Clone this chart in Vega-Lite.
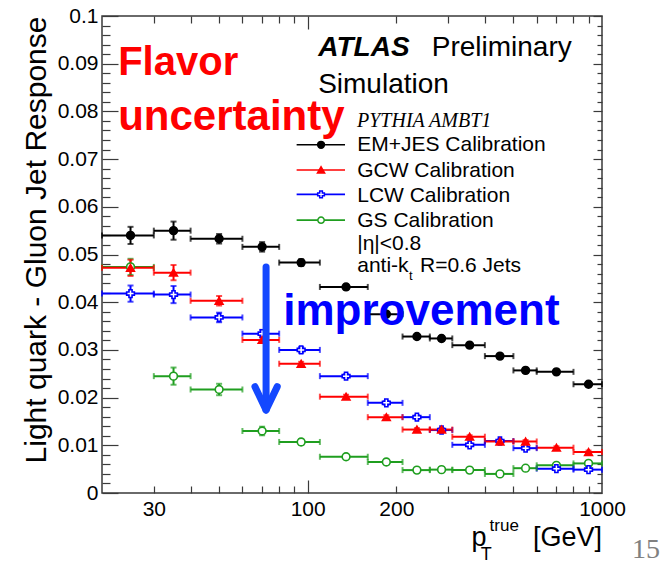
{
  "$schema": "https://vega.github.io/schema/vega-lite/v6.json",
  "width": 500,
  "height": 477,
  "autosize": {"type": "none"},
  "padding": {"left": 102, "top": 16, "right": 68, "bottom": 69},
  "background": "white",
  "data": {"values": [{}]},
  "datasets": {
    "jets": [
      {"series": "GS", "lo": 20, "hi": 30, "pt": 25, "y": 0.0474, "ylo": 0.0457, "yhi": 0.0491},
      {"series": "GS", "lo": 30, "hi": 40, "pt": 35, "y": 0.0245, "ylo": 0.0227, "yhi": 0.0263},
      {"series": "GS", "lo": 40, "hi": 60, "pt": 50, "y": 0.0217, "ylo": 0.0205, "yhi": 0.0229},
      {"series": "GS", "lo": 60, "hi": 80, "pt": 70, "y": 0.0130, "ylo": 0.0121, "yhi": 0.0139},
      {"series": "GS", "lo": 80, "hi": 110, "pt": 95, "y": 0.0107, "ylo": 0.0101, "yhi": 0.0113},
      {"series": "GS", "lo": 110, "hi": 160, "pt": 135, "y": 0.0076, "ylo": 0.0071, "yhi": 0.0081},
      {"series": "GS", "lo": 160, "hi": 210, "pt": 185, "y": 0.0065, "ylo": 0.0060, "yhi": 0.0070},
      {"series": "GS", "lo": 210, "hi": 260, "pt": 235, "y": 0.0048, "ylo": 0.0044, "yhi": 0.0052},
      {"series": "GS", "lo": 260, "hi": 310, "pt": 285, "y": 0.0049, "ylo": 0.0045, "yhi": 0.0053},
      {"series": "GS", "lo": 310, "hi": 400, "pt": 355, "y": 0.0048, "ylo": 0.0044, "yhi": 0.0052},
      {"series": "GS", "lo": 400, "hi": 500, "pt": 450, "y": 0.0040, "ylo": 0.0036, "yhi": 0.0044},
      {"series": "GS", "lo": 500, "hi": 600, "pt": 550, "y": 0.0052, "ylo": 0.0048, "yhi": 0.0056},
      {"series": "GS", "lo": 600, "hi": 800, "pt": 700, "y": 0.0058, "ylo": 0.0054, "yhi": 0.0062},
      {"series": "GS", "lo": 800, "hi": 1000, "pt": 900, "y": 0.0062, "ylo": 0.0058, "yhi": 0.0066},
      {"series": "LCW", "lo": 20, "hi": 30, "pt": 25, "y": 0.0418, "ylo": 0.0401, "yhi": 0.0435},
      {"series": "LCW", "lo": 30, "hi": 40, "pt": 35, "y": 0.0416, "ylo": 0.0398, "yhi": 0.0434},
      {"series": "LCW", "lo": 40, "hi": 60, "pt": 50, "y": 0.0368, "ylo": 0.0358, "yhi": 0.0378},
      {"series": "LCW", "lo": 60, "hi": 80, "pt": 70, "y": 0.0334, "ylo": 0.0326, "yhi": 0.0342},
      {"series": "LCW", "lo": 80, "hi": 110, "pt": 95, "y": 0.0300, "ylo": 0.0294, "yhi": 0.0306},
      {"series": "LCW", "lo": 110, "hi": 160, "pt": 135, "y": 0.0245, "ylo": 0.0241, "yhi": 0.0249},
      {"series": "LCW", "lo": 160, "hi": 210, "pt": 185, "y": 0.0189, "ylo": 0.0185, "yhi": 0.0193},
      {"series": "LCW", "lo": 210, "hi": 260, "pt": 235, "y": 0.0159, "ylo": 0.0155, "yhi": 0.0163},
      {"series": "LCW", "lo": 260, "hi": 310, "pt": 285, "y": 0.0132, "ylo": 0.0129, "yhi": 0.0135},
      {"series": "LCW", "lo": 310, "hi": 400, "pt": 355, "y": 0.0101, "ylo": 0.0098, "yhi": 0.0104},
      {"series": "LCW", "lo": 400, "hi": 500, "pt": 450, "y": 0.0109, "ylo": 0.0106, "yhi": 0.0112},
      {"series": "LCW", "lo": 500, "hi": 600, "pt": 550, "y": 0.0094, "ylo": 0.0091, "yhi": 0.0097},
      {"series": "LCW", "lo": 600, "hi": 800, "pt": 700, "y": 0.0051, "ylo": 0.0048, "yhi": 0.0054},
      {"series": "LCW", "lo": 800, "hi": 1000, "pt": 900, "y": 0.0049, "ylo": 0.0046, "yhi": 0.0052},
      {"series": "GCW", "lo": 20, "hi": 30, "pt": 25, "y": 0.0472, "ylo": 0.0455, "yhi": 0.0489},
      {"series": "GCW", "lo": 30, "hi": 40, "pt": 35, "y": 0.0462, "ylo": 0.0446, "yhi": 0.0478},
      {"series": "GCW", "lo": 40, "hi": 60, "pt": 50, "y": 0.0403, "ylo": 0.0393, "yhi": 0.0413},
      {"series": "GCW", "lo": 60, "hi": 80, "pt": 70, "y": 0.0321, "ylo": 0.0315, "yhi": 0.0327},
      {"series": "GCW", "lo": 80, "hi": 110, "pt": 95, "y": 0.0271, "ylo": 0.0267, "yhi": 0.0275},
      {"series": "GCW", "lo": 110, "hi": 160, "pt": 135, "y": 0.0202, "ylo": 0.0198, "yhi": 0.0206},
      {"series": "GCW", "lo": 160, "hi": 210, "pt": 185, "y": 0.0159, "ylo": 0.0155, "yhi": 0.0163},
      {"series": "GCW", "lo": 210, "hi": 260, "pt": 235, "y": 0.0133, "ylo": 0.0130, "yhi": 0.0136},
      {"series": "GCW", "lo": 260, "hi": 310, "pt": 285, "y": 0.0133, "ylo": 0.0130, "yhi": 0.0136},
      {"series": "GCW", "lo": 310, "hi": 400, "pt": 355, "y": 0.0118, "ylo": 0.0115, "yhi": 0.0121},
      {"series": "GCW", "lo": 400, "hi": 500, "pt": 450, "y": 0.0108, "ylo": 0.0105, "yhi": 0.0111},
      {"series": "GCW", "lo": 500, "hi": 600, "pt": 550, "y": 0.0108, "ylo": 0.0105, "yhi": 0.0111},
      {"series": "GCW", "lo": 600, "hi": 800, "pt": 700, "y": 0.0095, "ylo": 0.0092, "yhi": 0.0098},
      {"series": "GCW", "lo": 800, "hi": 1000, "pt": 900, "y": 0.0086, "ylo": 0.0083, "yhi": 0.0089},
      {"series": "EM+JES", "lo": 20, "hi": 30, "pt": 25, "y": 0.0540, "ylo": 0.0522, "yhi": 0.0558},
      {"series": "EM+JES", "lo": 30, "hi": 40, "pt": 35, "y": 0.0550, "ylo": 0.0531, "yhi": 0.0569},
      {"series": "EM+JES", "lo": 40, "hi": 60, "pt": 50, "y": 0.0533, "ylo": 0.0523, "yhi": 0.0543},
      {"series": "EM+JES", "lo": 60, "hi": 80, "pt": 70, "y": 0.0516, "ylo": 0.0506, "yhi": 0.0526},
      {"series": "EM+JES", "lo": 80, "hi": 110, "pt": 95, "y": 0.0483, "ylo": 0.0476, "yhi": 0.0490},
      {"series": "EM+JES", "lo": 110, "hi": 160, "pt": 135, "y": 0.0432, "ylo": 0.0427, "yhi": 0.0437},
      {"series": "EM+JES", "lo": 160, "hi": 210, "pt": 185, "y": 0.0375, "ylo": 0.0371, "yhi": 0.0379},
      {"series": "EM+JES", "lo": 210, "hi": 260, "pt": 235, "y": 0.0328, "ylo": 0.0324, "yhi": 0.0332},
      {"series": "EM+JES", "lo": 260, "hi": 310, "pt": 285, "y": 0.0324, "ylo": 0.0320, "yhi": 0.0328},
      {"series": "EM+JES", "lo": 310, "hi": 400, "pt": 355, "y": 0.0310, "ylo": 0.0306, "yhi": 0.0314},
      {"series": "EM+JES", "lo": 400, "hi": 500, "pt": 450, "y": 0.0287, "ylo": 0.0283, "yhi": 0.0291},
      {"series": "EM+JES", "lo": 500, "hi": 600, "pt": 550, "y": 0.0257, "ylo": 0.0253, "yhi": 0.0261},
      {"series": "EM+JES", "lo": 600, "hi": 800, "pt": 700, "y": 0.0254, "ylo": 0.0250, "yhi": 0.0258},
      {"series": "EM+JES", "lo": 800, "hi": 1000, "pt": 900, "y": 0.0228, "ylo": 0.0224, "yhi": 0.0232}
    ]
  },
  "resolve": {"axis": {"x": "independent", "y": "independent"}},
  "layer": [
    {
      "data": {"name": "jets"},
      "mark": {"type": "rule", "strokeWidth": 2},
      "encoding": {
        "x": {"field": "lo", "type": "quantitative", "scale": {"type": "log", "domain": [20, 1000], "nice": false},
              "axis": {"orient": "bottom", "values": [30, 100, 200, 1000], "format": "d", "ticks": false, "labelPadding": 5, "title": null}},
        "x2": {"field": "hi"},
        "y": {"field": "y", "type": "quantitative", "scale": {"domain": [0, 0.1], "nice": false, "zero": false},
              "axis": {"orient": "left", "values": [0, 0.01, 0.02, 0.03, 0.04, 0.05, 0.06, 0.07, 0.08, 0.09, 0.1], "ticks": false, "labelPadding": 4,
                       "labelExpr": "datum.value == 0 ? '0' : format(datum.value, '.2~f')",
                       "title": "Light quark - Gluon Jet Response", "titleFontSize": 30, "titleAnchor": "end", "titlePadding": 6}},
        "color": {"field": "series", "type": "nominal", "legend": null,
                  "scale": {"domain": ["EM+JES", "GCW", "LCW", "GS"], "range": ["#000000", "#ff0000", "#0000ff", "#1f9e1f"]}}
      }
    },
    {
      "data": {"name": "jets"},
      "mark": {"type": "rule", "strokeWidth": 2},
      "encoding": {
        "x": {"field": "pt", "type": "quantitative",
              "axis": {"orient": "bottom", "values": [30, 40, 50, 60, 70, 80, 90, 200, 300, 400, 500, 600, 700, 800, 900], "labels": false, "tickSize": -7, "title": null}},
        "y": {"field": "ylo", "type": "quantitative",
              "axis": {"orient": "left", "values": [0, 0.01, 0.02, 0.03, 0.04, 0.05, 0.06, 0.07, 0.08, 0.09, 0.1], "labels": false, "tickSize": -16, "title": null}},
        "y2": {"field": "yhi"},
        "color": {"field": "series", "type": "nominal", "legend": null}
      }
    },
    {
      "data": {"name": "jets"},
      "mark": {"type": "tick", "orient": "vertical", "size": 6, "thickness": 2},
      "encoding": {
        "x": {"field": "lo", "type": "quantitative",
              "axis": {"orient": "bottom", "values": [100], "labels": false, "tickSize": -13, "title": null}},
        "y": {"field": "y", "type": "quantitative",
              "axis": {"orient": "left", "values": [0.002, 0.004, 0.006, 0.008, 0.012, 0.014, 0.016, 0.018, 0.022, 0.024, 0.026, 0.028, 0.032, 0.034, 0.036, 0.038, 0.042, 0.044, 0.046, 0.048, 0.052, 0.054, 0.056, 0.058, 0.062, 0.064, 0.066, 0.068, 0.072, 0.074, 0.076, 0.078, 0.082, 0.084, 0.086, 0.088, 0.092, 0.094, 0.096, 0.098], "labels": false, "tickSize": -8, "title": null}},
        "color": {"field": "series", "type": "nominal", "legend": null}
      }
    },
    {
      "data": {"name": "jets"},
      "mark": {"type": "tick", "orient": "vertical", "size": 6, "thickness": 2},
      "encoding": {
        "x": {"field": "hi", "type": "quantitative",
              "axis": {"orient": "top", "values": [30, 40, 50, 60, 70, 80, 90, 200, 300, 400, 500, 600, 700, 800, 900], "labels": false, "tickSize": -7, "title": null}},
        "y": {"field": "y", "type": "quantitative",
              "axis": {"orient": "right", "values": [0, 0.01, 0.02, 0.03, 0.04, 0.05, 0.06, 0.07, 0.08, 0.09, 0.1], "labels": false, "tickSize": -9, "title": null}},
        "color": {"field": "series", "type": "nominal", "legend": null}
      }
    },
    {
      "data": {"name": "jets"},
      "mark": {"type": "tick", "orient": "horizontal", "size": 6, "thickness": 2},
      "encoding": {
        "x": {"field": "pt", "type": "quantitative",
              "axis": {"orient": "top", "values": [100], "labels": false, "tickSize": -13, "title": null}},
        "y": {"field": "ylo", "type": "quantitative",
              "axis": {"orient": "right", "values": [0.002, 0.004, 0.006, 0.008, 0.012, 0.014, 0.016, 0.018, 0.022, 0.024, 0.026, 0.028, 0.032, 0.034, 0.036, 0.038, 0.042, 0.044, 0.046, 0.048, 0.052, 0.054, 0.056, 0.058, 0.062, 0.064, 0.066, 0.068, 0.072, 0.074, 0.076, 0.078, 0.082, 0.084, 0.086, 0.088, 0.092, 0.094, 0.096, 0.098], "labels": false, "tickSize": -5, "title": null}},
        "color": {"field": "series", "type": "nominal", "legend": null}
      }
    },
    {
      "data": {"name": "jets"},
      "mark": {"type": "tick", "orient": "horizontal", "size": 6, "thickness": 2},
      "encoding": {
        "x": {"field": "pt", "type": "quantitative", "axis": null},
        "y": {"field": "yhi", "type": "quantitative", "axis": null},
        "color": {"field": "series", "type": "nominal", "legend": null}
      }
    },
    {
      "data": {"name": "jets"},
      "mark": {"type": "point", "strokeWidth": 1.6, "opacity": 1, "size": 60},
      "encoding": {
        "x": {"field": "pt", "type": "quantitative", "axis": null},
        "y": {"field": "y", "type": "quantitative", "axis": null},
        "shape": {"field": "series", "type": "nominal", "legend": null,
                  "scale": {"domain": ["EM+JES", "GCW", "LCW", "GS"], "range": ["circle", "triangle-up", "cross", "circle"]}},
        "fill": {"field": "series", "type": "nominal", "legend": null,
                 "scale": {"domain": ["EM+JES", "GCW", "LCW", "GS"], "range": ["#000000", "#ff0000", "#ffffff", "#ffffff"]}},
        "stroke": {"field": "series", "type": "nominal", "legend": null,
                   "scale": {"domain": ["EM+JES", "GCW", "LCW", "GS"], "range": ["#000000", "#ff0000", "#0000ff", "#1f9e1f"]}}
      }
    },

    {"mark": {"type": "rule", "stroke": "#000000", "strokeWidth": 1.6},
     "encoding": {"x": {"datum": 91.7, "type": "quantitative", "axis": null}, "x2": {"datum": 133.9}, "y": {"datum": 0.0730, "type": "quantitative", "axis": null}}},
    {"mark": {"type": "point", "shape": "circle", "fill": "#000000", "stroke": "#000000", "filled": true, "size": 40, "opacity": 1},
     "encoding": {"x": {"datum": 111, "type": "quantitative", "axis": null}, "y": {"datum": 0.0730, "type": "quantitative", "axis": null}}},
    {"mark": {"type": "text", "text": "EM+JES Calibration", "align": "left", "baseline": "alphabetic", "fontSize": 21, "fill": "#000000"},
     "encoding": {"x": {"datum": 147.3, "type": "quantitative", "axis": null}, "y": {"datum": 0.0716, "type": "quantitative", "axis": null}}},

    {"mark": {"type": "rule", "stroke": "#ff0000", "strokeWidth": 1.6},
     "encoding": {"x": {"datum": 91.7, "type": "quantitative", "axis": null}, "x2": {"datum": 133.9}, "y": {"datum": 0.0677, "type": "quantitative", "axis": null}}},
    {"mark": {"type": "point", "shape": "triangle-up", "fill": "#ff0000", "stroke": "#ff0000", "filled": true, "size": 40, "opacity": 1},
     "encoding": {"x": {"datum": 111, "type": "quantitative", "axis": null}, "y": {"datum": 0.0677, "type": "quantitative", "axis": null}}},
    {"mark": {"type": "text", "text": "GCW Calibration", "align": "left", "baseline": "alphabetic", "fontSize": 21, "fill": "#000000"},
     "encoding": {"x": {"datum": 147.3, "type": "quantitative", "axis": null}, "y": {"datum": 0.0663, "type": "quantitative", "axis": null}}},

    {"mark": {"type": "rule", "stroke": "#0000ff", "strokeWidth": 1.6},
     "encoding": {"x": {"datum": 91.7, "type": "quantitative", "axis": null}, "x2": {"datum": 133.9}, "y": {"datum": 0.0626, "type": "quantitative", "axis": null}}},
    {"mark": {"type": "point", "shape": "cross", "fill": "#ffffff", "stroke": "#0000ff", "filled": true, "strokeWidth": 1.5, "size": 45, "opacity": 1},
     "encoding": {"x": {"datum": 111, "type": "quantitative", "axis": null}, "y": {"datum": 0.0626, "type": "quantitative", "axis": null}}},
    {"mark": {"type": "text", "text": "LCW Calibration", "align": "left", "baseline": "alphabetic", "fontSize": 21, "fill": "#000000"},
     "encoding": {"x": {"datum": 147.3, "type": "quantitative", "axis": null}, "y": {"datum": 0.0611, "type": "quantitative", "axis": null}}},

    {"mark": {"type": "rule", "stroke": "#1f9e1f", "strokeWidth": 1.6},
     "encoding": {"x": {"datum": 91.7, "type": "quantitative", "axis": null}, "x2": {"datum": 133.9}, "y": {"datum": 0.0572, "type": "quantitative", "axis": null}}},
    {"mark": {"type": "point", "shape": "circle", "fill": "#ffffff", "stroke": "#1f9e1f", "filled": true, "strokeWidth": 1.5, "size": 40, "opacity": 1},
     "encoding": {"x": {"datum": 111, "type": "quantitative", "axis": null}, "y": {"datum": 0.0572, "type": "quantitative", "axis": null}}},
    {"mark": {"type": "text", "text": "GS Calibration", "align": "left", "baseline": "alphabetic", "fontSize": 21, "fill": "#000000"},
     "encoding": {"x": {"datum": 147.3, "type": "quantitative", "axis": null}, "y": {"datum": 0.0558, "type": "quantitative", "axis": null}}},

    {"mark": {"type": "text", "text": "|η|<0.8", "align": "left", "baseline": "alphabetic", "fontSize": 21, "fill": "#000000"},
     "encoding": {"x": {"datum": 147.3, "type": "quantitative", "axis": null}, "y": {"datum": 0.0509, "type": "quantitative", "axis": null}}},
    {"mark": {"type": "text", "text": "anti-k", "align": "left", "baseline": "alphabetic", "fontSize": 21, "fill": "#000000"},
     "encoding": {"x": {"datum": 147.3, "type": "quantitative", "axis": null}, "y": {"datum": 0.0464, "type": "quantitative", "axis": null}}},
    {"mark": {"type": "text", "text": "t", "align": "left", "baseline": "alphabetic", "fontSize": 13, "fill": "#000000"},
     "encoding": {"x": {"datum": 221, "type": "quantitative", "axis": null}, "y": {"datum": 0.0447, "type": "quantitative", "axis": null}}},
    {"mark": {"type": "text", "text": "R=0.6 Jets", "align": "left", "baseline": "alphabetic", "fontSize": 21, "fill": "#000000"},
     "encoding": {"x": {"datum": 240.8, "type": "quantitative", "axis": null}, "y": {"datum": 0.0464, "type": "quantitative", "axis": null}}},

    {"mark": {"type": "text", "text": "PYTHIA AMBT1", "align": "left", "baseline": "alphabetic", "font": "Liberation Serif", "fontStyle": "italic", "fontSize": 20, "fill": "#000000"},
     "encoding": {"x": {"datum": 147.1, "type": "quantitative", "axis": null}, "y": {"datum": 0.0768, "type": "quantitative", "axis": null}}},
    {"mark": {"type": "text", "text": "ATLAS", "align": "left", "baseline": "alphabetic", "fontSize": 28, "fontWeight": "bold", "fontStyle": "italic", "fill": "#000000"},
     "encoding": {"x": {"datum": 108.7, "type": "quantitative", "axis": null}, "y": {"datum": 0.0916, "type": "quantitative", "axis": null}}},
    {"mark": {"type": "text", "text": "Preliminary", "align": "left", "baseline": "alphabetic", "fontSize": 28, "fill": "#000000"},
     "encoding": {"x": {"datum": 263.9, "type": "quantitative", "axis": null}, "y": {"datum": 0.0916, "type": "quantitative", "axis": null}}},
    {"mark": {"type": "text", "text": "Simulation", "align": "left", "baseline": "alphabetic", "fontSize": 28, "fill": "#000000"},
     "encoding": {"x": {"datum": 108.5, "type": "quantitative", "axis": null}, "y": {"datum": 0.0839, "type": "quantitative", "axis": null}}},

    {"mark": {"type": "text", "text": "Flavor", "align": "left", "baseline": "alphabetic", "fontSize": 40, "fontWeight": "bold", "fill": "#ff0000"},
     "encoding": {"x": {"datum": 22.7, "type": "quantitative", "axis": null}, "y": {"datum": 0.0876, "type": "quantitative", "axis": null}}},
    {"mark": {"type": "text", "text": "uncertainty", "align": "left", "baseline": "alphabetic", "fontSize": 42, "fontWeight": "bold", "fill": "#ff0000"},
     "encoding": {"x": {"datum": 22.7, "type": "quantitative", "axis": null}, "y": {"datum": 0.0762, "type": "quantitative", "axis": null}}},
    {"mark": {"type": "text", "text": "improvement", "align": "left", "baseline": "alphabetic", "fontSize": 44, "fontWeight": "bold", "fill": "#0000ff"},
     "encoding": {"x": {"datum": 82.6, "type": "quantitative", "axis": null}, "y": {"datum": 0.0352, "type": "quantitative", "axis": null}}},

    {"mark": {"type": "rule", "stroke": "#1448ff", "strokeWidth": 7, "strokeCap": "round"},
     "encoding": {"x": {"datum": 72.2, "type": "quantitative", "axis": null}, "y": {"datum": 0.0474, "type": "quantitative", "axis": null}, "y2": {"datum": 0.0180}}},
    {"mark": {"type": "rule", "stroke": "#1448ff", "strokeWidth": 7, "strokeCap": "round"},
     "encoding": {"x": {"datum": 66.2, "type": "quantitative", "axis": null}, "x2": {"datum": 72.2}, "y": {"datum": 0.0223, "type": "quantitative", "axis": null}, "y2": {"datum": 0.0174}}},
    {"mark": {"type": "rule", "stroke": "#1448ff", "strokeWidth": 7, "strokeCap": "round"},
     "encoding": {"x": {"datum": 78.8, "type": "quantitative", "axis": null}, "x2": {"datum": 72.2}, "y": {"datum": 0.0223, "type": "quantitative", "axis": null}, "y2": {"datum": 0.0174}}},

    {"mark": {"type": "text", "text": "p", "align": "left", "baseline": "alphabetic", "fontSize": 27, "fill": "#000000"},
     "encoding": {"x": {"datum": 360.2, "type": "quantitative", "axis": null}, "y": {"datum": -0.0111, "type": "quantitative", "axis": null}}},
    {"mark": {"type": "text", "text": "T", "align": "left", "baseline": "alphabetic", "fontSize": 18, "fill": "#000000"},
     "encoding": {"x": {"datum": 387, "type": "quantitative", "axis": null}, "y": {"datum": -0.0140, "type": "quantitative", "axis": null}}},
    {"mark": {"type": "text", "text": "true", "align": "left", "baseline": "alphabetic", "fontSize": 17, "fill": "#000000"},
     "encoding": {"x": {"datum": 415, "type": "quantitative", "axis": null}, "y": {"datum": -0.0080, "type": "quantitative", "axis": null}}},
    {"mark": {"type": "text", "text": "[GeV]", "align": "right", "baseline": "alphabetic", "fontSize": 27, "fill": "#000000"},
     "encoding": {"x": {"datum": 1000, "type": "quantitative", "axis": null}, "y": {"datum": -0.0111, "type": "quantitative", "axis": null}}},
    {"mark": {"type": "text", "text": "15", "align": "left", "baseline": "alphabetic", "font": "Liberation Serif", "fontSize": 28, "fill": "#808080"},
     "encoding": {"x": {"datum": 1264, "type": "quantitative", "axis": null}, "y": {"datum": -0.0136, "type": "quantitative", "axis": null}}}
  ],
  "config": {
    "view": {"stroke": "#3a3a3a", "strokeWidth": 1.5},
    "axis": {
      "grid": false, "domain": false,
      "labelFont": "Liberation Sans", "labelFontSize": 21, "labelColor": "#000000",
      "labelFlush": false, "labelOverlap": false,
      "tickColor": "#3a3a3a", "tickWidth": 1.2,
      "titleFont": "Liberation Sans", "titleFontWeight": "normal", "titleColor": "#000000"
    },
    "text": {"font": "Liberation Sans"}
  }
}
